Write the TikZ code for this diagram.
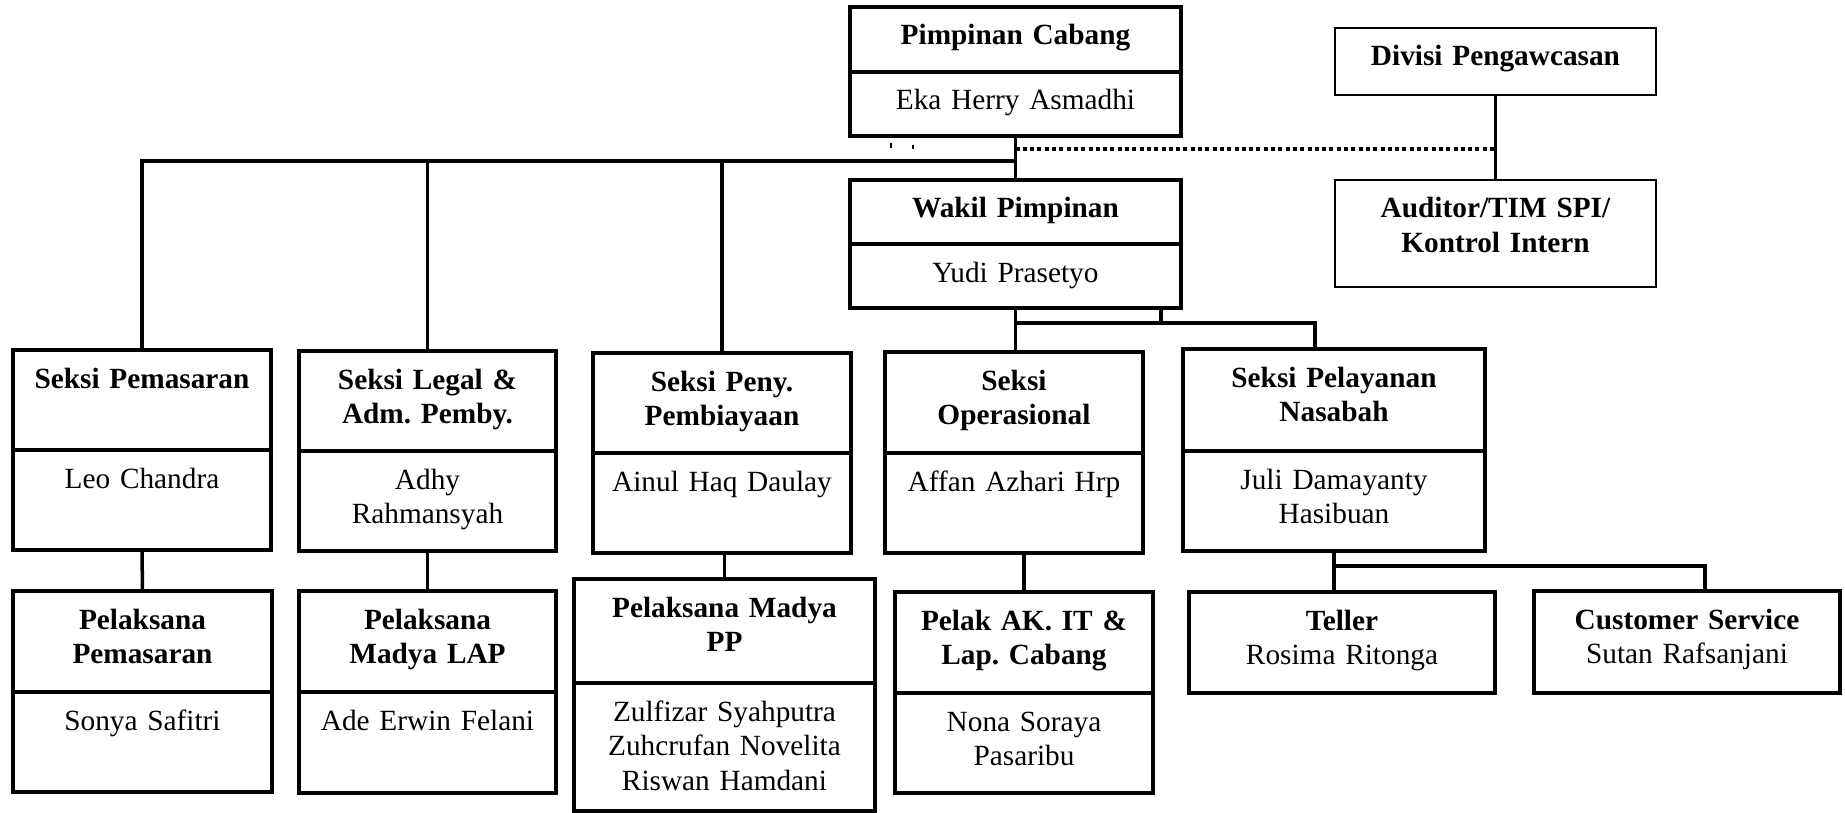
\documentclass[tikz,border=0pt]{standalone}
\usepackage{fontspec}
\setmainfont{Liberation Serif}
\usetikzlibrary{positioning}
\frenchspacing

\tikzset{
	kotak/.style={draw, line width=3.5pt, inner sep=0pt, outer sep=0pt, align=center,
		text height=38pt, font=\fontsize{29.3}{34.5}\selectfont},
	judul/.style={kotak, font=\fontsize{29.3}{34.5}\selectfont\bfseries},
	tipis/.style={line width=2pt},
	garis/.style={line width=3.5pt}
}

\begin{document}
\begin{tikzpicture}[x=1pt, y=-1pt]

		\useasboundingbox (0,0) rectangle (1845,813);

		%pimpinan
		\node[judul, anchor=north west, text width=331pt, text depth=27pt] (pimpinan) at (850,7) {Pimpinan Cabang};
		\node[kotak, anchor=north, text width=331pt, text depth=26pt] (pimpinanNama) at (pimpinan.south) {Eka Herry Asmadhi};

		\node[judul, tipis, anchor=north west, text width=321pt, text depth=29pt] (divisi) at (1335,28) {Divisi Pengawcasan};
		\node[judul, tipis, anchor=north west, text width=321pt, text depth=69pt] (auditor) at (1335,180) {Auditor/TIM SPI/\\Kontrol Intern};

		\node[judul, anchor=north west, text width=331pt, text depth=26pt] (wakil) at (850,180) {Wakil Pimpinan};
		\node[kotak, anchor=north, text width=331pt, text depth=26pt] (wakilNama) at (wakil.south) {Yudi Prasetyo};

		%seksi
		\node[judul, anchor=north west, text width=258pt, text depth=62pt] (pemasaran) at (13,350) {Seksi Pemasaran};
		\node[kotak, anchor=north, text width=258pt, text depth=62pt] (pemasaranNama) at (pemasaran.south) {Leo Chandra};

		\node[judul, anchor=north west, text width=257pt, text depth=62pt] (legal) at (299,351) {Seksi Legal \&\\Adm. Pemby.};
		\node[kotak, anchor=north, text width=257pt, text depth=62pt] (legalNama) at (legal.south) {Adhy\\Rahmansyah};

		\node[judul, anchor=north west, text width=258pt, text depth=62pt] (peny) at (593,353) {Seksi Peny.\\Pembiayaan};
		\node[kotak, anchor=north, text width=258pt, text depth=62pt] (penyNama) at (peny.south) {Ainul Haq Daulay};

		\node[judul, anchor=north west, text width=258pt, text depth=63pt] (operasional) at (885,352) {Seksi\\Operasional};
		\node[kotak, anchor=north, text width=258pt, text depth=62pt] (operasionalNama) at (operasional.south) {Affan Azhari Hrp};

		\node[judul, anchor=north west, text width=302pt, text depth=64pt] (layanan) at (1183,349) {Seksi Pelayanan\\Nasabah};
		\node[kotak, anchor=north, text width=302pt, text depth=62pt] (layananNama) at (layanan.south) {Juli Damayanty\\Hasibuan};

		%pelaksana
		\node[judul, anchor=north west, text width=259pt, text depth=63pt] (plkPemasaran) at (13,591) {Pelaksana\\Pemasaran};
		\node[kotak, anchor=north, text width=259pt, text depth=62pt] (plkPemasaranNama) at (plkPemasaran.south) {Sonya Safitri};

		\node[judul, anchor=north west, text width=257pt, text depth=63pt] (lap) at (299,591) {Pelaksana\\Madya LAP};
		\node[kotak, anchor=north, text width=257pt, text depth=63pt] (lapNama) at (lap.south) {Ade Erwin Felani};

		\node[judul, anchor=north west, text width=301pt, text depth=66pt] (pp) at (574,579) {Pelaksana Madya\\PP};
		\node[kotak, anchor=north, text width=301pt, text depth=90pt] (ppNama) at (pp.south) {Zulfizar Syahputra\\Zuhcrufan Novelita\\Riswan Hamdani};

		\node[judul, anchor=north west, text width=258pt, text depth=63pt] (pelak) at (895,592) {Pelak AK. IT \&\\Lap. Cabang};
		\node[kotak, anchor=north, text width=258pt, text depth=62pt] (pelakNama) at (pelak.south) {Nona Soraya\\Pasaribu};

		\node[kotak, anchor=north west, text width=306pt, text depth=63pt] (teller) at (1189,592) {\textbf{Teller}\\Rosima Ritonga};
		\node[kotak, anchor=north west, text width=306pt, text depth=64pt] (cs) at (1534,591) {\textbf{Customer Service}\\Sutan Rafsanjani};

		%garis
		\coordinate (simpul) at (1015.5,161);
		\draw[garis] (pimpinanNama.south) -- (wakil.north);
		\draw[garis] (pemasaran.north) |- (simpul);
		\draw[garis] (legal.north) -- (legal.north |- simpul);
		\draw[garis] (peny.north) -- (peny.north |- simpul);

		\coordinate (titikKiri) at (1015.5,149);
		\coordinate (titikKanan) at (1495.5,149);
		\draw[garis, dash pattern=on 4pt off 3.3pt] (titikKiri) -- (titikKanan);
		\draw[line width=2.5pt] (divisi.south) -- (auditor.north);
		\draw[line width=2pt] (890.7,143.5) -- (890.7,148);
		\draw[line width=2pt] (913,145) -- (913,149);

		\coordinate (tengahWakil) at (1161,323);
		\coordinate (ujungLayanan) at (1315,323);
		\draw[garis] (wakilNama.south) -- (wakilNama.south |- operasional.north);
		\draw[garis] (wakilNama.south -| tengahWakil) -- (tengahWakil);
		\draw[garis] (wakilNama.south |- tengahWakil) -- (ujungLayanan) -- (ujungLayanan |- layanan.north);

		\draw[garis] (pemasaranNama.south) -- (plkPemasaran.north);
		\draw[garis] (legalNama.south) -- (lap.north);
		\draw[garis] (pp.north) -- (pp.north |- penyNama.south);
		\draw[garis] (pelak.north) -- (pelak.north |- operasionalNama.south);

		\coordinate (ujungCS) at (1705,566);
		\draw[garis] (layananNama.south) -- (layananNama.south |- teller.north);
		\draw[garis] (layananNama.south |- ujungCS) -- (ujungCS) -- (ujungCS |- cs.north);
	\end{tikzpicture}
\end{document}
